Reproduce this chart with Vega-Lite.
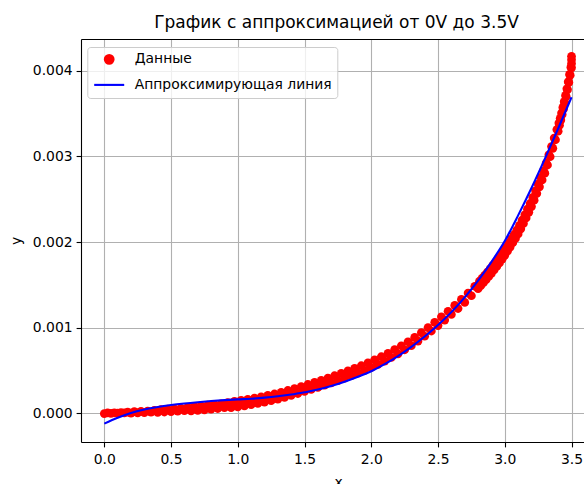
{
 "$schema": "https://vega.github.io/schema/vega-lite/v6.json",
 "autosize": {"type": "none"},
 "padding": {"left": 81, "top": 39, "right": 0, "bottom": 42},
 "width": 503,
 "height": 403,
 "background": "white",
 "title": {"text": "График с аппроксимацией от 0V до 3.5V", "font": "DejaVu Sans", "fontSize": 17, "fontWeight": "normal", "color": "black", "anchor": "middle", "dx": 4, "dy": 14, "baseline": "alphabetic", "offset": 8.5, "frame": "group"},
 "config": {
  "view": {"stroke": null},
  "axis": {"domainColor": "black", "domainWidth": 1.1, "tickColor": "black", "tickWidth": 1.1, "tickSize": 4.9, "labelFont": "DejaVu Sans", "labelFontSize": 13.9, "labelColor": "black", "titleFont": "DejaVu Sans", "titleFontSize": 13.9, "titleFontWeight": "normal", "titleColor": "black", "gridColor": "#b0b0b0", "gridWidth": 1.1, "gridOpacity": 1},
  "legend": {"labelFont": "DejaVu Sans", "labelFontSize": 13.9, "labelColor": "black", "labelLimit": 400, "title": null, "orient": "none", "legendX": 6.3, "legendY": 8, "padding": 5.4, "fillColor": "rgba(255,255,255,0.8)", "strokeColor": "#cccccc", "cornerRadius": 3, "rowPadding": -16, "labelOffset": 9, "symbolStrokeWidth": 2.1, "symbolOpacity": 1}
 },
 "datasets": {
  "points": [
   {"x":0.00,"y":-0.000003,"s":"Данные"},{"x":0.05,"y":-0.000001,"s":"Данные"},{"x":0.10,"y":0.000001,"s":"Данные"},{"x":0.15,"y":0.000004,"s":"Данные"},
   {"x":0.20,"y":0.000002,"s":"Данные"},{"x":0.25,"y":0.000005,"s":"Данные"},{"x":0.30,"y":0.000009,"s":"Данные"},{"x":0.35,"y":0.000013,"s":"Данные"},
   {"x":0.40,"y":0.000010,"s":"Данные"},{"x":0.45,"y":0.000015,"s":"Данные"},{"x":0.50,"y":0.000020,"s":"Данные"},{"x":0.55,"y":0.000025,"s":"Данные"},
   {"x":0.60,"y":0.000031,"s":"Данные"},{"x":0.65,"y":0.000027,"s":"Данные"},{"x":0.70,"y":0.000034,"s":"Данные"},{"x":0.75,"y":0.000041,"s":"Данные"},
   {"x":0.80,"y":0.000048,"s":"Данные"},{"x":0.85,"y":0.000056,"s":"Данные"},{"x":0.90,"y":0.000065,"s":"Данные"},{"x":0.95,"y":0.000065,"s":"Данные"},
   {"x":1.00,"y":0.000075,"s":"Данные"},{"x":1.05,"y":0.000087,"s":"Данные"},{"x":1.10,"y":0.000100,"s":"Данные"},{"x":1.15,"y":0.000115,"s":"Данные"},
   {"x":1.20,"y":0.000130,"s":"Данные"},{"x":1.25,"y":0.000147,"s":"Данные"},{"x":1.30,"y":0.000165,"s":"Данные"},{"x":1.35,"y":0.000186,"s":"Данные"},
   {"x":1.40,"y":0.000208,"s":"Данные"},{"x":1.45,"y":0.000231,"s":"Данные"},{"x":1.50,"y":0.000255,"s":"Данные"},{"x":1.55,"y":0.000279,"s":"Данные"},
   {"x":1.60,"y":0.000303,"s":"Данные"},{"x":1.65,"y":0.000329,"s":"Данные"},{"x":1.70,"y":0.000355,"s":"Данные"},{"x":1.75,"y":0.000382,"s":"Данные"},
   {"x":1.80,"y":0.000410,"s":"Данные"},{"x":1.85,"y":0.000440,"s":"Данные"},{"x":1.90,"y":0.000470,"s":"Данные"},{"x":1.95,"y":0.000502,"s":"Данные"},
   {"x":2.00,"y":0.000535,"s":"Данные"},{"x":2.05,"y":0.000572,"s":"Данные"},{"x":2.10,"y":0.000610,"s":"Данные"},{"x":2.15,"y":0.000652,"s":"Данные"},
   {"x":2.20,"y":0.000695,"s":"Данные"},{"x":2.25,"y":0.000742,"s":"Данные"},{"x":2.30,"y":0.000790,"s":"Данные"},{"x":2.35,"y":0.000844,"s":"Данные"},
   {"x":2.40,"y":0.000900,"s":"Данные"},{"x":2.45,"y":0.000961,"s":"Данные"},{"x":2.50,"y":0.001025,"s":"Данные"},{"x":2.55,"y":0.001089,"s":"Данные"},
   {"x":2.60,"y":0.001155,"s":"Данные"},{"x":2.65,"y":0.001224,"s":"Данные"},{"x":2.70,"y":0.001295,"s":"Данные"},{"x":2.75,"y":0.001373,"s":"Данные"},
   {"x":2.80,"y":0.001455,"s":"Данные"},{"x":2.82,"y":0.001490,"s":"Данные"},{"x":2.84,"y":0.001525,"s":"Данные"},{"x":2.86,"y":0.001561,"s":"Данные"},
   {"x":2.88,"y":0.001598,"s":"Данные"},{"x":2.90,"y":0.001635,"s":"Данные"},{"x":2.92,"y":0.001675,"s":"Данные"},{"x":2.94,"y":0.001715,"s":"Данные"},
   {"x":2.96,"y":0.001757,"s":"Данные"},{"x":2.98,"y":0.001800,"s":"Данные"},{"x":3.00,"y":0.001845,"s":"Данные"},{"x":3.02,"y":0.001893,"s":"Данные"},
   {"x":3.04,"y":0.001942,"s":"Данные"},{"x":3.06,"y":0.001992,"s":"Данные"},{"x":3.08,"y":0.002043,"s":"Данные"},{"x":3.10,"y":0.002095,"s":"Данные"},
   {"x":3.12,"y":0.002155,"s":"Данные"},{"x":3.14,"y":0.002217,"s":"Данные"},{"x":3.16,"y":0.002281,"s":"Данные"},{"x":3.18,"y":0.002347,"s":"Данные"},
   {"x":3.20,"y":0.002415,"s":"Данные"},{"x":3.22,"y":0.002490,"s":"Данные"},{"x":3.24,"y":0.002567,"s":"Данные"},{"x":3.26,"y":0.002645,"s":"Данные"},
   {"x":3.28,"y":0.002725,"s":"Данные"},{"x":3.30,"y":0.002805,"s":"Данные"},{"x":3.32,"y":0.002900,"s":"Данные"},{"x":3.34,"y":0.002997,"s":"Данные"},
   {"x":3.36,"y":0.003095,"s":"Данные"},{"x":3.38,"y":0.003195,"s":"Данные"},{"x":3.40,"y":0.003295,"s":"Данные"},{"x":3.41,"y":0.003365,"s":"Данные"},
   {"x":3.42,"y":0.003425,"s":"Данные"},{"x":3.43,"y":0.003490,"s":"Данные"},{"x":3.44,"y":0.003555,"s":"Данные"},{"x":3.45,"y":0.003625,"s":"Данные"},
   {"x":3.46,"y":0.003700,"s":"Данные"},{"x":3.47,"y":0.003780,"s":"Данные"},{"x":3.48,"y":0.003865,"s":"Данные"},{"x":3.49,"y":0.003950,"s":"Данные"},
   {"x":3.50,"y":0.004035,"s":"Данные"},
   {"x":0.025,"y":0.000004,"s":"Данные"},{"x":0.075,"y":0.000006,"s":"Данные"},{"x":0.125,"y":0.000009,"s":"Данные"},{"x":0.175,"y":0.000014,"s":"Данные"},
   {"x":0.225,"y":0.000020,"s":"Данные"},{"x":0.275,"y":0.000023,"s":"Данные"},{"x":0.325,"y":0.000027,"s":"Данные"},{"x":0.375,"y":0.000035,"s":"Данные"},
   {"x":0.425,"y":0.000043,"s":"Данные"},{"x":0.475,"y":0.000048,"s":"Данные"},{"x":0.525,"y":0.000053,"s":"Данные"},{"x":0.575,"y":0.000058,"s":"Данные"},
   {"x":0.625,"y":0.000069,"s":"Данные"},{"x":0.675,"y":0.000081,"s":"Данные"},{"x":0.725,"y":0.000088,"s":"Данные"},{"x":0.775,"y":0.000095,"s":"Данные"},
   {"x":0.825,"y":0.000102,"s":"Данные"},{"x":0.875,"y":0.000111,"s":"Данные"},{"x":0.925,"y":0.000125,"s":"Данные"},{"x":0.975,"y":0.000140,"s":"Данные"},
   {"x":1.025,"y":0.000151,"s":"Данные"},{"x":1.075,"y":0.000164,"s":"Данные"},{"x":1.125,"y":0.000178,"s":"Данные"},{"x":1.175,"y":0.000193,"s":"Данные"},
   {"x":1.225,"y":0.000209,"s":"Данные"},{"x":1.275,"y":0.000226,"s":"Данные"},{"x":1.325,"y":0.000246,"s":"Данные"},{"x":1.375,"y":0.000267,"s":"Данные"},
   {"x":1.425,"y":0.000290,"s":"Данные"},{"x":1.475,"y":0.000313,"s":"Данные"},{"x":1.525,"y":0.000337,"s":"Данные"},{"x":1.575,"y":0.000361,"s":"Данные"},
   {"x":1.625,"y":0.000386,"s":"Данные"},{"x":1.675,"y":0.000412,"s":"Данные"},{"x":1.725,"y":0.000439,"s":"Данные"},{"x":1.775,"y":0.000466,"s":"Данные"},
   {"x":1.825,"y":0.000495,"s":"Данные"},{"x":1.875,"y":0.000525,"s":"Данные"},{"x":1.925,"y":0.000556,"s":"Данные"},{"x":1.975,"y":0.000589,"s":"Данные"},
   {"x":2.025,"y":0.000624,"s":"Данные"},{"x":2.075,"y":0.000661,"s":"Данные"},{"x":2.125,"y":0.000701,"s":"Данные"},{"x":2.175,"y":0.000744,"s":"Данные"},
   {"x":2.225,"y":0.000789,"s":"Данные"},{"x":2.275,"y":0.000836,"s":"Данные"},{"x":2.325,"y":0.000887,"s":"Данные"},{"x":2.375,"y":0.000942,"s":"Данные"},
   {"x":2.425,"y":0.001001,"s":"Данные"},{"x":2.475,"y":0.001063,"s":"Данные"},{"x":2.525,"y":0.001127,"s":"Данные"},{"x":2.575,"y":0.001192,"s":"Данные"},
   {"x":2.625,"y":0.001260,"s":"Данные"},{"x":2.675,"y":0.001330,"s":"Данные"},{"x":2.725,"y":0.001404,"s":"Данные"},{"x":2.775,"y":0.001484,"s":"Данные"},
   {"x":2.81,"y":0.001543,"s":"Данные"},{"x":2.83,"y":0.001578,"s":"Данные"},{"x":2.85,"y":0.001613,"s":"Данные"},{"x":2.87,"y":0.001650,"s":"Данные"},
   {"x":2.89,"y":0.001687,"s":"Данные"},{"x":2.91,"y":0.001725,"s":"Данные"},{"x":2.93,"y":0.001765,"s":"Данные"},{"x":2.95,"y":0.001806,"s":"Данные"},
   {"x":2.97,"y":0.001849,"s":"Данные"},{"x":2.99,"y":0.001893,"s":"Данные"},{"x":3.01,"y":0.001939,"s":"Данные"},{"x":3.03,"y":0.001988,"s":"Данные"},
   {"x":3.05,"y":0.002037,"s":"Данные"},{"x":3.07,"y":0.002088,"s":"Данные"},{"x":3.09,"y":0.002139,"s":"Данные"},{"x":3.11,"y":0.002195,"s":"Данные"},
   {"x":3.13,"y":0.002256,"s":"Данные"},{"x":3.15,"y":0.002319,"s":"Данные"},{"x":3.17,"y":0.002384,"s":"Данные"},{"x":3.19,"y":0.002451,"s":"Данные"},
   {"x":3.21,"y":0.002523,"s":"Данные"},{"x":3.23,"y":0.002599,"s":"Данные"},{"x":3.25,"y":0.002676,"s":"Данные"},{"x":3.27,"y":0.002755,"s":"Данные"},
   {"x":3.29,"y":0.002835,"s":"Данные"},{"x":3.31,"y":0.002923,"s":"Данные"},{"x":3.33,"y":0.003019,"s":"Данные"},{"x":3.35,"y":0.003116,"s":"Данные"},
   {"x":3.37,"y":0.003215,"s":"Данные"},{"x":3.39,"y":0.003315,"s":"Данные"},{"x":3.405,"y":0.003390,"s":"Данные"},{"x":3.415,"y":0.003445,"s":"Данные"},
   {"x":3.425,"y":0.003508,"s":"Данные"},{"x":3.435,"y":0.003573,"s":"Данные"},{"x":3.445,"y":0.003640,"s":"Данные"},{"x":3.455,"y":0.003713,"s":"Данные"},
   {"x":3.465,"y":0.003790,"s":"Данные"},{"x":3.475,"y":0.003873,"s":"Данные"},{"x":3.485,"y":0.003958,"s":"Данные"},{"x":3.495,"y":0.004043,"s":"Данные"},
   {"x":3.50,"y":0.004085,"s":"Данные"},{"x":3.50,"y":0.004130,"s":"Данные"},{"x":3.50,"y":0.004170,"s":"Данные"}
  ],
  "fit": [
   {"x":0.0,"y":-0.000120,"s":"Аппроксимирующая линия"},
   {"x":0.1,"y":-0.000052,"s":"Аппроксимирующая линия"},
   {"x":0.2,"y":0.000004,"s":"Аппроксимирующая линия"},
   {"x":0.3,"y":0.000044,"s":"Аппроксимирующая линия"},
   {"x":0.4,"y":0.000074,"s":"Аппроксимирующая линия"},
   {"x":0.5,"y":0.000097,"s":"Аппроксимирующая линия"},
   {"x":0.6,"y":0.000115,"s":"Аппроксимирующая линия"},
   {"x":0.7,"y":0.000130,"s":"Аппроксимирующая линия"},
   {"x":0.8,"y":0.000143,"s":"Аппроксимирующая линия"},
   {"x":0.9,"y":0.000154,"s":"Аппроксимирующая линия"},
   {"x":1.0,"y":0.000163,"s":"Аппроксимирующая линия"},
   {"x":1.1,"y":0.000171,"s":"Аппроксимирующая линия"},
   {"x":1.2,"y":0.000183,"s":"Аппроксимирующая линия"},
   {"x":1.3,"y":0.000199,"s":"Аппроксимирующая линия"},
   {"x":1.4,"y":0.000219,"s":"Аппроксимирующая линия"},
   {"x":1.5,"y":0.000246,"s":"Аппроксимирующая линия"},
   {"x":1.6,"y":0.000277,"s":"Аппроксимирующая линия"},
   {"x":1.7,"y":0.000319,"s":"Аппроксимирующая линия"},
   {"x":1.8,"y":0.000369,"s":"Аппроксимирующая линия"},
   {"x":1.9,"y":0.000427,"s":"Аппроксимирующая линия"},
   {"x":2.0,"y":0.000492,"s":"Аппроксимирующая линия"},
   {"x":2.1,"y":0.000574,"s":"Аппроксимирующая линия"},
   {"x":2.2,"y":0.000669,"s":"Аппроксимирующая линия"},
   {"x":2.3,"y":0.000777,"s":"Аппроксимирующая линия"},
   {"x":2.4,"y":0.000897,"s":"Аппроксимирующая линия"},
   {"x":2.5,"y":0.001032,"s":"Аппроксимирующая линия"},
   {"x":2.6,"y":0.001182,"s":"Аппроксимирующая линия"},
   {"x":2.7,"y":0.001354,"s":"Аппроксимирующая линия"},
   {"x":2.8,"y":0.001549,"s":"Аппроксимирующая линия"},
   {"x":2.9,"y":0.001769,"s":"Аппроксимирующая линия"},
   {"x":3.0,"y":0.002012,"s":"Аппроксимирующая линия"},
   {"x":3.1,"y":0.002312,"s":"Аппроксимирующая линия"},
   {"x":3.2,"y":0.002632,"s":"Аппроксимирующая линия"},
   {"x":3.3,"y":0.002972,"s":"Аппроксимирующая линия"},
   {"x":3.4,"y":0.003327,"s":"Аппроксимирующая линия"},
   {"x":3.5,"y":0.003692,"s":"Аппроксимирующая линия"}
  ]
 },
 "layer": [
  {
   "data": {"name": "points"},
   "mark": {"type": "point", "filled": true, "opacity": 1, "strokeWidth": 0},
   "encoding": {
    "x": {"field": "x", "type": "quantitative", "scale": {"domain": [-0.1745, 3.5934], "nice": false, "zero": false},
          "axis": {"orient": "bottom", "values": [0, 0.5, 1, 1.5, 2, 2.5, 3, 3.5], "format": ".1f", "title": "x", "labelPadding": 6, "titlePadding": 9, "titleX": 257, "grid": true}},
    "y": {"field": "y", "type": "quantitative", "scale": {"domain": [-0.000335, 0.004372], "nice": false, "zero": false},
          "axis": {"values": [0, 0.001, 0.002, 0.003, 0.004], "format": ".3f", "title": "y", "labelPadding": 4, "titlePadding": 9, "grid": true}},
    "fill": {"field": "s", "type": "nominal", "scale": {"domain": ["Данные", "Аппроксимирующая линия"], "range": ["#ff0000", "#0000ff"]},
             "legend": {"orient": "none", "legendX": 6.3, "legendY": 8, "padding": 5.4, "rowPadding": -16, "labelOffset": 9}},
    "shape": {"field": "s", "type": "nominal", "scale": {"domain": ["Данные", "Аппроксимирующая линия"], "range": ["circle", "stroke"]}},
    "size": {"field": "s", "type": "nominal", "scale": {"domain": ["Данные", "Аппроксимирующая линия"], "range": [76, 900]}}
   }
  },
  {
   "data": {"name": "fit"},
   "mark": {"type": "line", "strokeWidth": 2.1, "interpolate": "monotone"},
   "encoding": {
    "x": {"field": "x", "type": "quantitative", "axis": {"orient": "top", "labels": false, "ticks": false, "grid": false, "title": null}},
    "y": {"field": "y", "type": "quantitative"},
    "stroke": {"field": "s", "type": "nominal", "scale": {"domain": ["Данные", "Аппроксимирующая линия"], "range": ["#ff0000", "#0000ff"]}}
   }
  }
 ],
 "resolve": {"axis": {"x": "independent"}}
}
